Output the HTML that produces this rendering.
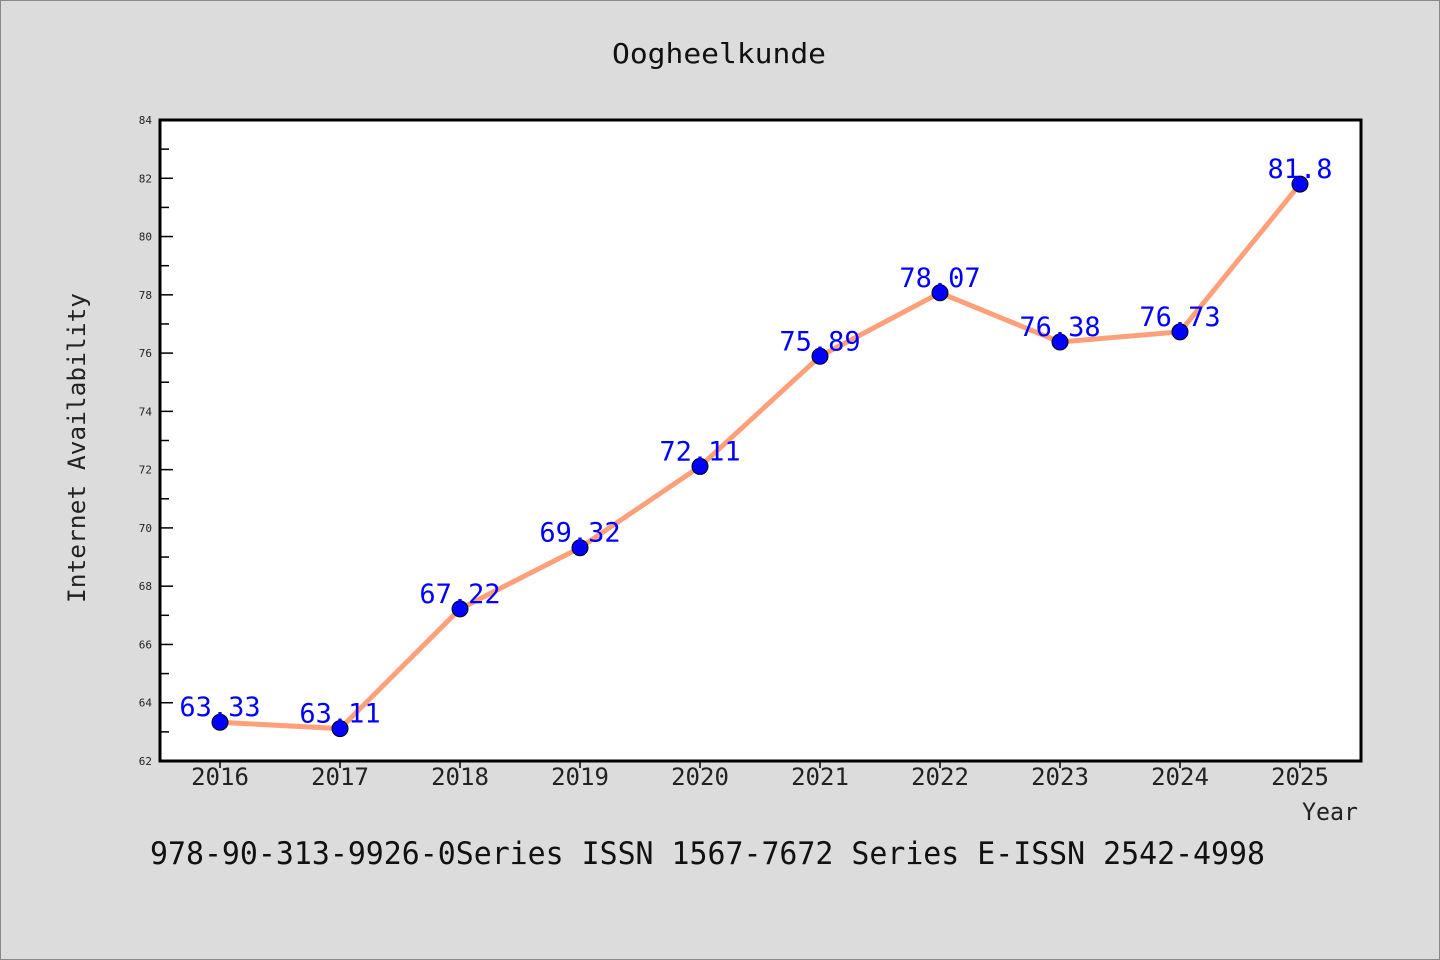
<!DOCTYPE html>
<html><head><meta charset="utf-8"><style>
body{margin:0;background:#dcdcdc;}
svg{display:block;font-family:"WenQuanYi Zen Hei Mono","DejaVu Sans Mono","Liberation Mono",monospace;}
</style></head><body>
<svg width="1440" height="960">
<rect x="0.5" y="0.5" width="1439" height="959" fill="#dcdcdc" stroke="#888"/>
<text x="612" y="63" font-size="28" textLength="214" lengthAdjust="spacingAndGlyphs" fill="#111">Oogheelkunde</text>
<rect x="160" y="120" width="1201" height="641" fill="#fff"/>
<g id="grid"></g>
<path d="M160 120V761H1361V120Z" fill="none" stroke="#000" stroke-width="3"/>
<text transform="translate(85,603) rotate(-90)" font-size="24" textLength="310" lengthAdjust="spacingAndGlyphs" fill="#222">Internet Availability</text>
<text x="1302" y="820" font-size="24" textLength="56" lengthAdjust="spacingAndGlyphs" fill="#222">Year</text>
<text x="150" y="864" font-size="31" textLength="1115" lengthAdjust="spacingAndGlyphs" fill="#111">978-90-313-9926-0Series ISSN 1567-7672 Series E-ISSN 2542-4998</text>
<g id="series"></g>
</svg>
<script>
const years=[2016,2017,2018,2019,2020,2021,2022,2023,2024,2025];
const values=[63.33,63.11,67.22,69.32,72.11,75.89,78.07,76.38,76.73,81.8];
const labels=["63.33","63.11","67.22","69.32","72.11","75.89","78.07","76.38","76.73","81.8"];
const yTicks=[62,64,66,68,70,72,74,76,78,80,82,84];
const NS="http://www.w3.org/2000/svg";
const yMin=62,yMax=84,plotTop=120,plotBot=761;
const yS=v=>plotBot-(v-yMin)/(yMax-yMin)*(plotBot-plotTop);
const xS=i=>220+i*120;
function mk(t,a,p){const e=document.createElementNS(NS,t);for(const k in a)e.setAttribute(k,a[k]);p.appendChild(e);return e;}
const g=document.getElementById('grid');
yTicks.forEach(v=>{
 const l=mk('line',{x1:160,x2:173,y1:yS(v),y2:yS(v),stroke:'#000','stroke-width':1.5},g);
 
 
 if(v<yMax){const m=mk('line',{x1:160,x2:169,y1:yS(v+1),y2:yS(v+1),stroke:'#000','stroke-width':1.5},g);
 
 }
 const t=mk('text',{x:152,y:yS(v)+4,'font-size':11,'text-anchor':'end',fill:'#222'},g);
 t.textContent=v;
 
 
});
years.forEach((yr,i)=>{
 const l=mk('line',{x1:xS(i),x2:xS(i),y1:761,y2:768,stroke:'#000','stroke-width':1.5},g);
 
 
 const t=mk('text',{x:xS(i),y:785,'font-size':24,'text-anchor':'middle',fill:'#222'},g);
 t.textContent=yr;
 
 
});
const s=document.getElementById('series');
const line=mk('polyline',{points:values.map((v,i)=>xS(i)+','+yS(v)).join(' '),fill:'none',stroke:'#ffa07a','stroke-width':5,'stroke-linejoin':'round'},s);


values.forEach((v,i)=>{
 const c=mk('circle',{cx:xS(i),cy:yS(v),r:8,fill:'#0000ff',stroke:'#000','stroke-width':1},s);
 
 
 const t=mk('text',{x:xS(i),y:yS(v)-6,'font-size':27,'text-anchor':'middle',fill:'#0000ff'},s);
 t.textContent=labels[i];
 
 
});
</script>
</body></html>
